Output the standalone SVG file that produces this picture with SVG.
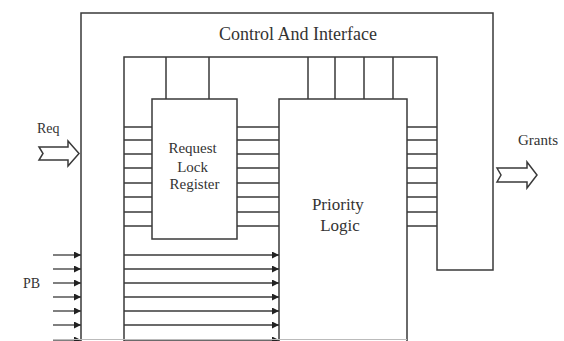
<svg xmlns="http://www.w3.org/2000/svg" width="564" height="341" viewBox="0 0 564 341">
  <style>
    .ln { stroke: #3a3a3a; stroke-width: 1.5; fill: none; }
    .box { stroke: #3a3a3a; stroke-width: 1.5; fill: #ffffff; }
    .txt { font-family: 'Liberation Serif', 'Times New Roman', serif; fill: #333333; }
    .ar { stroke: #3a3a3a; stroke-width: 1.3; fill: none; marker-end: url(#ah); }
  </style>
  <defs>
    <marker id="ah" markerUnits="userSpaceOnUse" markerWidth="8" markerHeight="7" refX="7" refY="3.5" orient="auto">
      <path d="M0,0 L7,3.5 L0,7 Z" fill="#222222"/>
    </marker>
  </defs>
  <rect width="564" height="341" fill="#ffffff"/>

  <g id="control-interface">
    <path class="box" d="M81,341 V13 H493 V270 H437 V57 H124 V341"/>
    <text class="txt" x="298" y="40" font-size="18" text-anchor="middle">Control And Interface</text>
  </g>

  <g id="request-lock-register">
    <rect class="box" x="152" y="99" width="85" height="140"/>
    <text class="txt" font-size="15" text-anchor="middle">
      <tspan x="194.5" y="153">Request</tspan>
      <tspan x="194.5" y="172">Lock</tspan>
      <tspan x="194.5" y="189">Register</tspan>
    </text>
  </g>

  <g id="priority-logic">
    <path class="box" d="M279,341 V99 H407 V341"/>
    <text class="txt" font-size="17" text-anchor="middle">
      <tspan x="340" y="210">Priority</tspan>
      <tspan x="340" y="231">Logic</tspan>
    </text>
  </g>

  <g id="req">
    <text class="txt" x="37" y="133" font-size="14">Req</text>
    <path class="ln" stroke-width="1.2" d="M39,147 H68 V141 L79,153.5 L68,166 V160 H39 L43,153.5 Z"/>
  </g>

  <g id="grants">
    <text class="txt" x="518" y="145" font-size="15">Grants</text>
    <path class="ln" stroke-width="1.2" d="M497,168 H527 V162 L537,175 L527,188 V182 H497 L501,175 Z"/>
  </g>

  <g id="pb">
    <text class="txt" x="23" y="288" font-size="14">PB</text>
  </g>

  <g id="connectors">
    <path class="ln" d="M166,57 V99 M209,57 V99 M308,57 V99 M335,57 V99 M364,57 V99 M393,57 V99"/>
    <path class="ln" d="M124,127 H152 M124,140 H152 M124,154 H152 M124,168 H152 M124,183 H152 M124,197 H152 M124,212 H152 M124,226 H152"/>
    <path class="ln" d="M237,127 H279 M237,140 H279 M237,154 H279 M237,168 H279 M237,183 H279 M237,197 H279 M237,212 H279 M237,226 H279"/>
    <path class="ln" d="M407,127 H437 M407,140 H437 M407,154 H437 M407,168 H437 M407,183 H437 M407,197 H437 M407,212 H437 M407,226 H437"/>
    <path class="ar" d="M53,255 H81"/>
    <path class="ar" d="M53,269 H81"/>
    <path class="ar" d="M53,283 H81"/>
    <path class="ar" d="M53,297 H81"/>
    <path class="ar" d="M53,311 H81"/>
    <path class="ar" d="M53,325 H81"/>
    <path class="ar" d="M53,340 H81"/>
    <path class="ar" d="M124,255 H279"/>
    <path class="ar" d="M124,269 H279"/>
    <path class="ar" d="M124,283 H279"/>
    <path class="ar" d="M124,297 H279"/>
    <path class="ar" d="M124,311 H279"/>
    <path class="ar" d="M124,325 H279"/>
    <path class="ar" d="M124,340 H279"/>
    <path stroke="#bbbbbb" stroke-width="1" d="M53,339.5 H407"/>
  </g>
</svg>
